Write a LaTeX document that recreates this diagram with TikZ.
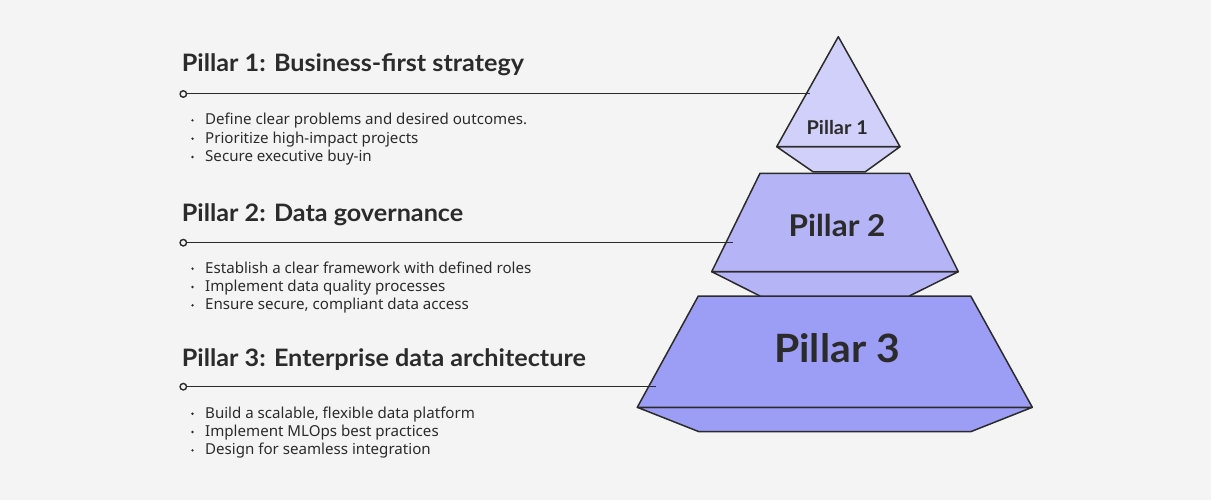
\documentclass[tikz,border=0pt]{standalone}
\usepackage{fontspec}
\setmainfont{Lato}
\newfontfamily\bodyfont{Noto Sans}

\definecolor{pagebg}{HTML}{F4F4F4}
\definecolor{inkline}{HTML}{2B2B2B}
\definecolor{tierone}{HTML}{D0D0FA}
\definecolor{tiertwo}{HTML}{B4B4F7}
\definecolor{tierthree}{HTML}{9C9DF4}

\tikzset{
  tier/.style={draw=inkline, line width=1.5pt, line join=round},
  heading/.style={anchor=base west, inner sep=0pt, font=\fontsize{24}{24}\selectfont\bfseries, text=inkline},
  point/.style={anchor=base west, inner sep=0pt, font=\bodyfont\fontsize{15.1}{18}\selectfont, text=inkline},
  tierlabel/.style={inner sep=0pt, text=inkline},
  leader/.style={draw=inkline, line width=1pt},
  knob/.style={circle, draw=inkline, fill=pagebg, line width=1.4pt, minimum size=6.5pt, inner sep=0pt},
  dot/.style={circle, fill=inkline, minimum size=2.6pt, inner sep=0pt}
}

% a little wider, like the original typeface
\newcommand{\wide}[1]{\scalebox{1.05}[1]{#1}}

\begin{document}
\begin{tikzpicture}[x=1pt, y=-1pt]

    % background
    \fill[pagebg] (0,0) rectangle (1211,500);
    \useasboundingbox (0,0) rectangle (1211,500);

    %% Pyramid

    % Pillar 3
    \draw[tier, fill=tierthree] (637.3,407.3) -- (699,431.7) -- (970.7,431.7) -- (1032.3,407.3) -- cycle;
    \draw[tier, fill=tierthree] (698.3,296) -- (970.7,296) -- (1032.3,407.3) -- (637.3,407.3) -- cycle;

    % Pillar 2
    \draw[tier, fill=tiertwo] (711.7,271.7) -- (760,296) -- (909.3,296) -- (958.3,271.7) -- cycle;
    \draw[tier, fill=tiertwo] (760,173.3) -- (909.3,173.3) -- (958.3,271.7) -- (711.7,271.7) -- cycle;

    % Pillar 1
    \draw[tier, fill=tierone] (776.7,146.7) -- (813.3,172) -- (865,172) -- (900,146.7) -- cycle;
    \draw[tier, fill=tierone] (838.3,36.7) -- (900,146.7) -- (776.7,146.7) -- cycle;

    % labels on the pyramid
    \node[tierlabel, font=\fontsize{19}{19}\selectfont\bfseries] (tag1) at (837.3,127.3) {\wide{Pillar 1}};
    \node[tierlabel, font=\fontsize{30}{30}\selectfont\bfseries] (tag2) at (837,225.7) {\wide{Pillar 2}};
    \node[tierlabel, font=\fontsize{39}{39}\selectfont\bfseries] (tag3) at (837,348) {\wide{Pillar 3}};

    %% Left column

    % Pillar 1
    \node[heading] (head1) at (181.7,71.7) {\wide{Pillar 1: Business-first strategy}};
    \node[knob] (knob1) at (183.3,94) {};
    \coordinate (tip1) at (810,94);
    \draw[leader] (knob1) -- (tip1);
    \foreach \txt [count=\i] in {Define clear problems and desired outcomes., Prioritize high-impact projects, Secure executive buy-in} {
        \node[dot] (dota\i) at (192.5,{125+18.3*(\i-1)-4.6}) {};
        \node[point] (pointa\i) at (205,{125+18.3*(\i-1)}) {\txt};
    }

    % Pillar 2
    \node[heading] (head2) at (181.7,221.7) {\wide{Pillar 2: Data governance}};
    \node[knob] (knob2) at (183.3,242.7) {};
    \coordinate (tip2) at (732.7,242.7);
    \draw[leader] (knob2) -- (tip2);
    \foreach \txt [count=\i] in {Establish a clear framework with defined roles, Implement data quality processes, {Ensure secure, compliant data access}} {
        \node[dot] (dotb\i) at (192.5,{273.3+18.3*(\i-1)-4.6}) {};
        \node[point] (pointb\i) at (205,{273.3+18.3*(\i-1)}) {\txt};
    }

    % Pillar 3
    \node[heading] (head3) at (181.7,366) {\wide{Pillar 3: Enterprise data architecture}};
    \node[knob] (knob3) at (183.3,386.7) {};
    \coordinate (tip3) at (656,386.7);
    \draw[leader] (knob3) -- (tip3);
    \foreach \txt [count=\i] in {{Build a scalable, flexible data platform}, Implement MLOps best practices, Design for seamless integration} {
        \node[dot] (dotc\i) at (192.5,{418.3+18.3*(\i-1)-4.6}) {};
        \node[point] (pointc\i) at (205,{418.3+18.3*(\i-1)}) {\txt};
    }

\end{tikzpicture}
\end{document}
